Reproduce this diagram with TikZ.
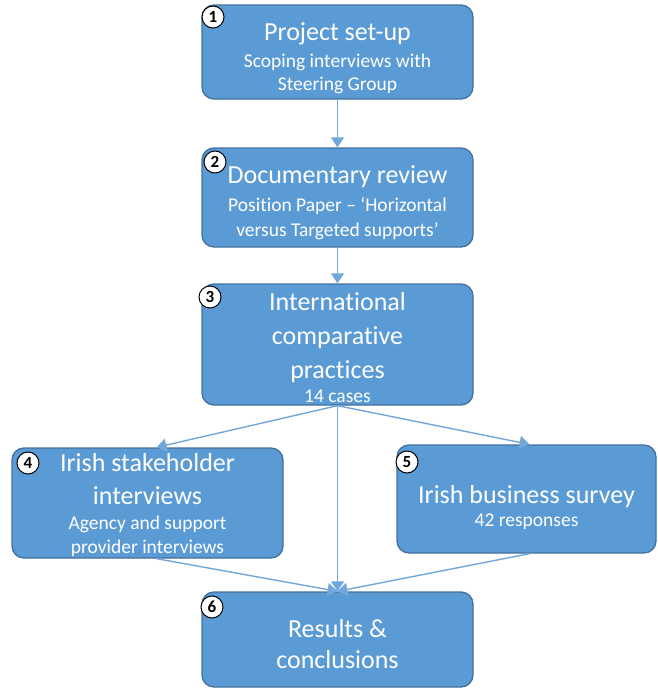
\documentclass[tikz,border=0pt]{standalone}
\usepackage{fontspec}
\setmainfont{Carlito}[Ligatures={TeX,NoCommon}]
\usetikzlibrary{arrows.meta}
\definecolor{boxblue}{HTML}{5B9BD5}
\definecolor{boxedge}{HTML}{41719C}
\definecolor{linkblue}{HTML}{72A7DB}
\newcommand*{\ttl}[1]{{\fontsize{26}{31}\selectfont #1}}
\begin{document}
\begin{tikzpicture}[x=1pt, y=-1pt,
        stage/.style={draw=boxedge, line width=1.3pt, fill=boxblue, rounded corners=12pt, text=white, align=center, inner sep=0pt, font=\fontsize{19.5}{23}\selectfont},
        num/.style={circle, draw=black, line width=1pt, fill=white, inner sep=0pt, minimum size=22pt, font=\fontsize{17}{17}\selectfont\bfseries},
        link/.style={draw=linkblue, line width=1.4pt, -{Triangle[width=13pt, length=10pt]}}]
        \useasboundingbox(0, 0)rectangle(658, 688);
        % the empty first row pushes the text a little down in its box
        \node[stage, minimum width=271pt, minimum height=94pt](setup)at(337.5, 52){\\[8pt]\ttl{Project set-up}\\[4pt]Scoping interviews with\\Steering Group};
        \node[stage, minimum width=271pt, minimum height=99pt](review)at(337.5, 197.5){\\[6pt]\ttl{Documentary review}\\[5pt]Position Paper -- `Horizontal\\[2pt]versus Targeted supports'};
        \node[stage, minimum width=271pt, minimum height=121pt](practice)at(337.5, 344.5){\\[1pt]\ttl{International}\\[11pt]\ttl{comparative}\\[11pt]\ttl{practices}\\[1pt]14 cases};
        \node[stage, minimum width=271pt, minimum height=110pt](stake)at(147.5, 503){\\[0pt]\ttl{Irish stakeholder}\\[10pt]\ttl{interviews}\\[2pt]Agency and support\\[1pt]provider interviews};
        \node[stage, minimum width=259pt, minimum height=108pt](survey)at(526.5, 499){\\[12pt]\ttl{Irish business survey}\\[0pt]42 responses};
        \node[stage, minimum width=271pt, minimum height=95pt](results)at(337.5, 639.5){\\[5pt]\ttl{Results \&}\\[8pt]\ttl{conclusions}};
        \node[num](n1)at(213, 17){1};
        \node[num](n2)at(215, 162){2};
        \node[num](n3)at(210, 297){3};
        \node[num](n4)at(28, 463){4};
        \node[num](n5)at(407, 462){5};
        \node[num](n6)at(212, 607){6};
        \draw[link](setup)--(review);
        \draw[link](review)--(practice);
        \draw[link](practice.south)--([xshift=9pt]stake.north);
        \draw[link](practice.south)--([xshift=3pt]survey.north);
        \draw[link](practice.south)--(results.north);
        \draw[link]([xshift=9pt]stake.south)--(results.north);
        \draw[link]([xshift=3pt]survey.south)--(results.north);
\end{tikzpicture}
\end{document}
